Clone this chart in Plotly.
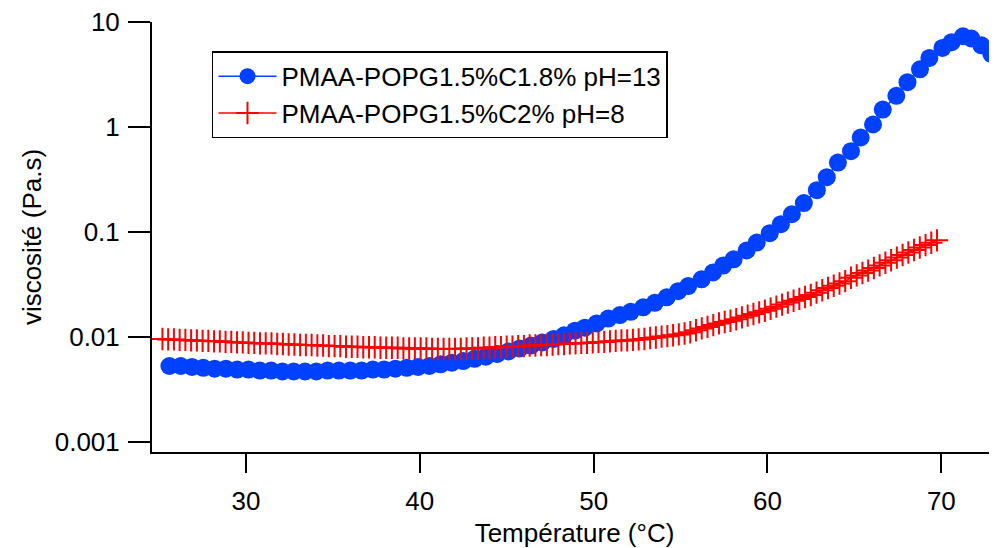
import plotly.graph_objects as go

# ---- data ----
blue_name = "PMAA-POPG1.5%C1.8% pH=13"
blue_T = [25.60, 26.25, 26.90, 27.55, 28.20, 28.85, 29.50, 30.15, 30.80, 31.45,
          32.10, 32.75, 33.40, 34.05, 34.70, 35.35, 36.00, 36.65, 37.30, 37.95,
          38.60, 39.25, 39.90, 40.55, 41.20, 41.85, 42.50, 43.15, 43.80, 44.45,
          45.10, 45.75, 46.40, 47.05, 47.70, 48.30, 48.93, 49.50, 50.17, 50.84,
          51.51, 52.13, 52.85, 53.52, 54.20, 54.86, 55.44, 56.21, 56.87, 57.45,
          58.05, 58.80, 59.38, 60.13, 60.77, 61.40, 62.09, 62.84, 63.41, 64.05,
          64.80, 65.36, 66.07, 66.63, 67.41, 68.05, 68.77, 69.31, 70.06, 70.59,
          71.24, 71.72, 72.30, 72.87]
blue_visc = [0.0053, 0.0053, 0.0052, 0.0051, 0.0050, 0.0050, 0.0049, 0.0049, 0.0048, 0.0048,
             0.0047, 0.0047, 0.0047, 0.0047, 0.0048, 0.0048, 0.0048, 0.0048, 0.0049, 0.0049,
             0.0050, 0.0051, 0.0052, 0.0053, 0.0055, 0.0057, 0.0059, 0.0062, 0.0065, 0.0069,
             0.0073, 0.0078, 0.0083, 0.0089, 0.0096, 0.0104, 0.0115, 0.0123, 0.0135, 0.0150,
             0.0162, 0.0174, 0.0192, 0.0212, 0.0239, 0.0274, 0.0306, 0.0355, 0.0413, 0.0480,
             0.0550, 0.0668, 0.0795, 0.0977, 0.1190, 0.1480, 0.1890, 0.2510, 0.3340, 0.4600,
             0.5900, 0.7970, 1.0600, 1.4700, 1.9900, 2.6800, 3.5600, 4.5700, 5.6900, 6.4500,
             7.3500, 7.0000, 6.0300, 5.0000]

red_name = "PMAA-POPG1.5%C2% pH=8"
red_T = [25.20, 25.53, 25.86, 26.19, 26.52, 26.85, 27.18, 27.51, 27.84, 28.17,
         28.50, 28.83, 29.16, 29.49, 29.82, 30.15, 30.48, 30.81, 31.14, 31.47,
         31.80, 32.13, 32.46, 32.79, 33.12, 33.45, 33.78, 34.11, 34.44, 34.77,
         35.10, 35.43, 35.76, 36.09, 36.42, 36.75, 37.08, 37.41, 37.74, 38.07,
         38.40, 38.73, 39.06, 39.39, 39.72, 40.05, 40.38, 40.71, 41.04, 41.37,
         41.70, 42.03, 42.36, 42.69, 43.02, 43.35, 43.68, 44.01, 44.34, 44.67,
         45.00, 45.33, 45.66, 45.99, 46.32, 46.65, 46.98, 47.31, 47.64, 47.97,
         48.30, 48.63, 48.96, 49.29, 49.62, 49.95, 50.28, 50.61, 50.94, 51.27,
         51.60, 51.93, 52.26, 52.59, 52.92, 53.25, 53.58, 53.91, 54.24, 54.57,
         54.90, 55.23, 55.56, 55.89, 56.22, 56.55, 56.88, 57.21, 57.54, 57.87,
         58.20, 58.53, 58.86, 59.19, 59.52, 59.85, 60.18, 60.51, 60.84, 61.17,
         61.50, 61.83, 62.16, 62.49, 62.82, 63.15, 63.48, 63.81, 64.14, 64.47,
         64.80, 65.13, 65.46, 65.79, 66.12, 66.45, 66.78, 67.11, 67.44, 67.77,
         68.10, 68.43, 68.76, 69.09, 69.42, 69.75]
red_visc = [0.0096, 0.0095, 0.0095, 0.0094, 0.0094, 0.0093, 0.0093, 0.0092, 0.0092, 0.0091,
            0.0091, 0.0090, 0.0090, 0.0089, 0.0089, 0.0088, 0.0088, 0.0087, 0.0087, 0.0087,
            0.0086, 0.0086, 0.0085, 0.0085, 0.0084, 0.0084, 0.0084, 0.0083, 0.0083, 0.0082,
            0.0082, 0.0082, 0.0081, 0.0081, 0.0081, 0.0080, 0.0080, 0.0080, 0.0079, 0.0079,
            0.0079, 0.0079, 0.0078, 0.0078, 0.0078, 0.0078, 0.0078, 0.0077, 0.0077, 0.0077,
            0.0077, 0.0077, 0.0077, 0.0078, 0.0078, 0.0078, 0.0079, 0.0079, 0.0080, 0.0080,
            0.0081, 0.0081, 0.0082, 0.0082, 0.0083, 0.0083, 0.0084, 0.0084, 0.0085, 0.0086,
            0.0086, 0.0087, 0.0087, 0.0088, 0.0088, 0.0089, 0.0090, 0.0090, 0.0091, 0.0092,
            0.0093, 0.0093, 0.0094, 0.0095, 0.0096, 0.0098, 0.0099, 0.0101, 0.0102, 0.0104,
            0.0106, 0.0108, 0.0111, 0.0116, 0.0121, 0.0125, 0.0130, 0.0135, 0.0139, 0.0143,
            0.0148, 0.0154, 0.0160, 0.0166, 0.0172, 0.0178, 0.0186, 0.0195, 0.0204, 0.0213,
            0.0222, 0.0231, 0.0241, 0.0252, 0.0265, 0.0279, 0.0293, 0.0308, 0.0324, 0.0341,
            0.0368, 0.0387, 0.0408, 0.0430, 0.0455, 0.0482, 0.0510, 0.0540, 0.0572, 0.0606,
            0.0640, 0.0676, 0.0714, 0.0752, 0.0792, 0.0835]

x_title = "Température (°C)"
y_title = "viscosité (Pa.s)"
x_tickvals = [30, 40, 50, 60, 70]
y_tickvals = [0.001, 0.01, 0.1, 1, 10]
y_ticktext = ["0.001", "0.01", "0.1", "1", "10"]

FONT = "Liberation Sans, Arial, sans-serif"

fig = go.Figure()
fig.add_trace(go.Scatter(
    x=blue_T, y=blue_visc, name=blue_name, mode="lines+markers",
    line=dict(color="#0040ff", width=1.5),
    marker=dict(symbol="circle", size=18, color="#0040ff", line=dict(width=0)),
))
fig.add_trace(go.Scatter(
    x=red_T, y=red_visc, name=red_name, mode="lines+markers",
    line=dict(color="#ff0000", width=1.5),
    marker=dict(symbol="cross-thin", size=16, color="#ff0000",
                line=dict(color="#ff0000", width=2)),
))

# the page body adds an 8 px offset at top-left
fig.update_layout(
    width=997, height=540,
    margin=dict(l=144, r=8, t=14, b=96, autoexpand=False),
    paper_bgcolor="white", plot_bgcolor="white",
    font=dict(family=FONT, size=26, color="black"),
    showlegend=True,
    legend=dict(
        x=0.071, y=0.932, xanchor="left", yanchor="top",
        bgcolor="white", bordercolor="black", borderwidth=1.5,
        font=dict(family=FONT, size=26, color="black"),
        traceorder="normal", itemwidth=58,
        entrywidth=390, entrywidthmode="pixels",
        tracegroupgap=0,
    ),
    xaxis=dict(
        range=[24.6, 73.2], tickvals=x_tickvals,
        showgrid=False, zeroline=False, automargin=False,
        showline=True, linecolor="black", linewidth=2,
        ticks="outside", ticklen=19, tickwidth=2, tickcolor="black",
        ticklabelstandoff=6,
        title=dict(text=x_title, font=dict(size=26), standoff=12),
    ),
    yaxis=dict(
        type="log", range=[-3.095, 1.002],
        tickvals=y_tickvals, ticktext=y_ticktext,
        showgrid=False, zeroline=False, automargin=False,
        showline=True, linecolor="black", linewidth=2,
        ticks="outside", ticklen=22, tickwidth=2, tickcolor="black",
        ticklabelstandoff=3, ticklabeloverflow="allow",
        title=dict(text=y_title, font=dict(size=26), standoff=6),
    ),
)

fig.write_html("out.html")
